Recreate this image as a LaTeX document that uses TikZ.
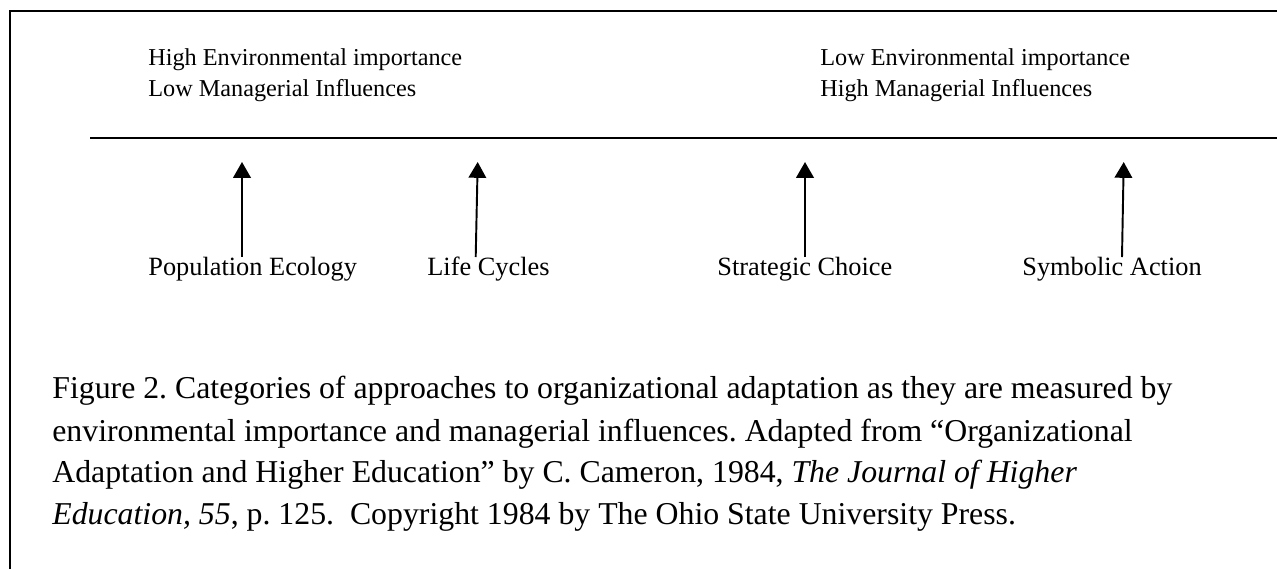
\documentclass[tikz,border=0pt]{standalone}
\usepackage{fontspec}
\setmainfont{Liberation Serif}
\usetikzlibrary{arrows.meta}
\frenchspacing

\tikzset{
  headtext/.style={anchor=base west, inner sep=0pt, font=\fontsize{13.8}{17}\selectfont},
  approach/.style={anchor=base west, inner sep=0pt, font=\fontsize{15}{17}\selectfont},
  captext/.style={anchor=base west, inner sep=0pt, font=\fontsize{18.1}{22}\selectfont},
  uparrow/.style={line width=1.1pt, -{Triangle[width=10pt,length=9pt]}}
}

\begin{document}
\begin{tikzpicture}[x=0.02cm, y=-0.02cm]
\useasboundingbox (0,0) rectangle (1277,569);
% Frame
\draw[line width=1.2pt] (10,569) -- (10,11) -- (1277,11);
% Scale
\draw[line width=0.9pt] (90,138) -- (1277,138);
% Ends of the scale
\node[headtext] (highenv) at (148,65) {High Environmental importance};
\node[headtext] (lowman) at (148,96) {Low Managerial Influences};
\node[headtext] (lowenv) at (820,65) {Low Environmental importance};
\node[headtext] (highman) at (820,96) {High Managerial Influences};
% Approaches
\node[approach] (popeco) at (148,275) {Population Ecology};
\node[approach] (lifecyc) at (427,275) {Life Cycles};
\node[approach] (strat) at (717,275) {Strategic Choice};
\node[approach] (symb) at (1022,275) {Symbolic Action};
% Arrows
\coordinate (popeco-tail) at (242,257);
\coordinate (popeco-tip) at (242,162);
\coordinate (lifecyc-tail) at (475.7,257);
\coordinate (lifecyc-tip) at (477.7,162);
\coordinate (strat-tail) at (805,257);
\coordinate (strat-tip) at (805,162);
\coordinate (symb-tail) at (1122,257);
\coordinate (symb-tip) at (1123.7,162);
\draw[uparrow] (popeco-tail) -- (popeco-tip);
\draw[uparrow] (lifecyc-tail) -- (lifecyc-tip);
\draw[uparrow] (strat-tail) -- (strat-tip);
\draw[uparrow] (symb-tail) -- (symb-tip);
% Caption
\node[captext] (cap1) at (52,398) {Figure 2. Categories of approaches to organizational adaptation as they are measured by};
\node[captext] (cap2) at (52,441) {environmental importance and managerial influences. Adapted from “Organizational};
\node[captext] (cap3) at (52,482) {Adaptation and Higher Education” by C. Cameron, 1984, \textit{The Journal of Higher}};
\node[captext] (cap4) at (52,524) {\textit{Education, 55}, p. 125.\ \ Copyright 1984 by The Ohio State University Press.};
\end{tikzpicture}
\end{document}
